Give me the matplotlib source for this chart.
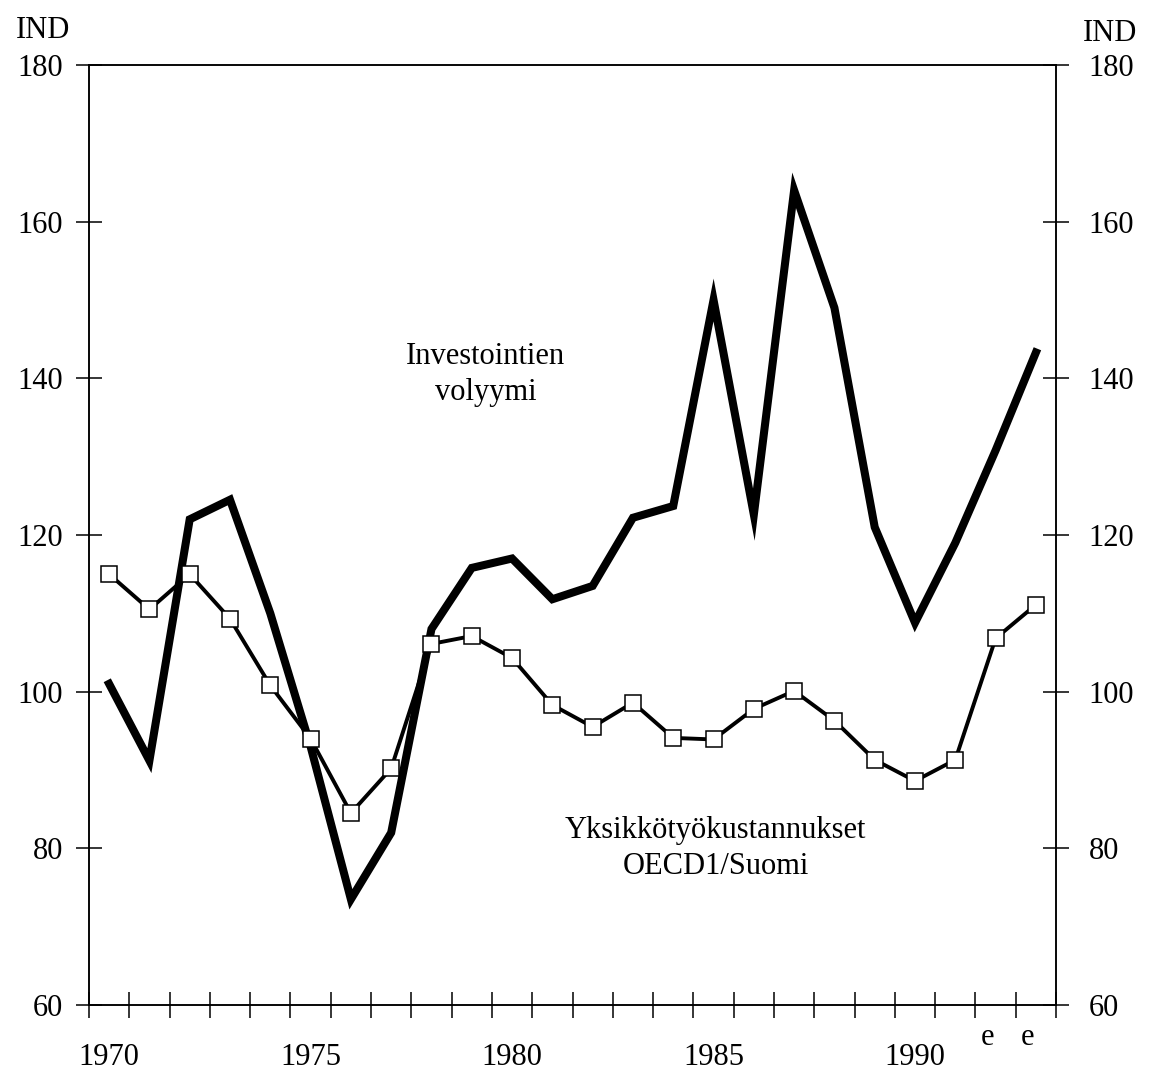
import matplotlib
matplotlib.use("Agg")
import matplotlib.pyplot as plt
import matplotlib.transforms as mtransforms
import numpy as np

years = list(range(1970, 1994))
investment_volume = [101, 91.2, 122, 124.5, 110, 93, 73.5, 82, 108, 115.8, 117, 111.8,
                     113.5, 122.2, 123.7, 150, 122.6, 164, 149, 121, 108.8, 119, 130.8, 143.3]
unit_labour_cost = [115, 110.5, 115, 109.3, 100.8, 94, 84.5, 90.2, 106.1, 107.1, 104.3, 98.3,
                    95.5, 98.6, 94.1, 93.9, 97.8, 100.1, 96.3, 91.3, 88.6, 91.3, 106.8, 111.1]
year_labels = [1970, 1975, 1980, 1985, 1990]
estimate_years = [1992, 1993]
y_ticks = [60, 80, 100, 120, 140, 160, 180]

plt.rcParams['font.family'] = ['Liberation Serif', 'DejaVu Serif']
FS = 22

fig = plt.figure(figsize=(11.51, 10.83), dpi=100)
ax = fig.add_axes([0.0773, 0.072, 0.8402, 0.868])

ax.plot(years, investment_volume, color='black', lw=5.8, solid_joinstyle='miter', zorder=3)
ax.plot(years, unit_labour_cost, color='black', lw=2.8, marker='s', markersize=11,
        markerfacecolor='white', markeredgecolor='black', markeredgewidth=1.1, zorder=4)

ax.set_xlim(years[0] - 0.5, years[-1] + 0.5)
ax.set_ylim(60, 180)

for s in ax.spines.values():
    s.set_linewidth(1.1)

# Category-style x axis: tick marks between years, labels centred on years
ax.set_xticks(np.arange(years[0] - 0.5, years[-1] + 1.0, 1.0))
ax.set_xticklabels([])
ax.set_xticks(year_labels, minor=True)
ax.set_xticklabels([str(y) for y in year_labels], minor=True, fontsize=FS)
ax.tick_params(axis='x', which='major', direction='inout', length=19, width=1.1)
ax.tick_params(axis='x', which='minor', length=0, pad=27)

ax.set_yticks(y_ticks)
ax.set_yticklabels([str(v) for v in y_ticks], fontsize=FS)
ax.tick_params(axis='y', which='major', direction='inout', length=19, width=1.1,
               left=True, right=True, labelleft=True, labelright=False, pad=9)

# Right-hand duplicate scale
ax2 = ax.twinx()
ax2.set_ylim(ax.get_ylim())
ax2.set_yticks(y_ticks)
ax2.set_yticklabels([str(v) for v in y_ticks], fontsize=FS)
ax2.tick_params(axis='y', direction='inout', length=19, width=1.1, pad=14)
for s in ax2.spines.values():
    s.set_linewidth(1.1)

# Estimate markers above the last two years
trans = mtransforms.blended_transform_factory(ax.transData, ax.transAxes)
for y in estimate_years:
    ax.text(y - 0.2, -0.019, 'e', transform=trans, ha='center', va='top', fontsize=FS)

fig.text(0.037, 0.972, 'IND', ha='center', va='center', fontsize=FS)
fig.text(0.964, 0.969, 'IND', ha='center', va='center', fontsize=FS)

ax.text(1979.35, 140.5, 'Investointien\nvolyymi', ha='center', va='center',
        fontsize=FS, linespacing=1.3)
ax.text(1985.05, 80.0, 'Yksikkötyökustannukset\nOECD1/Suomi', ha='center', va='center',
        fontsize=FS, linespacing=1.3)

fig.savefig('out.png', dpi=100)
